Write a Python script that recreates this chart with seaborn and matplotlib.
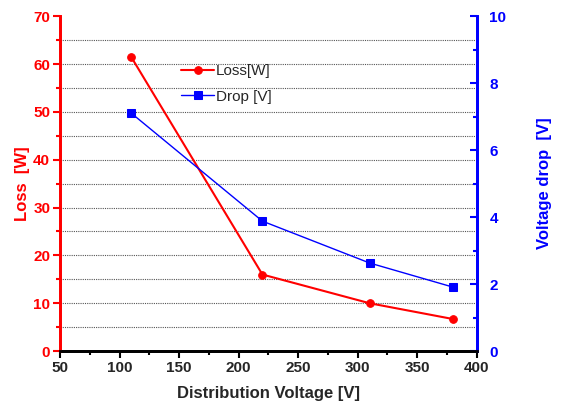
import numpy as np
import pandas as pd
import matplotlib
matplotlib.use('Agg')
import matplotlib.pyplot as plt
import seaborn as sns

# data
voltage = [110, 220, 310, 380]
loss_w = [61.4, 16.0, 10.0, 6.7]
drop_v = [7.1, 3.88, 2.63, 1.91]

df = pd.DataFrame({'voltage': voltage, 'loss': loss_w, 'drop': drop_v})

sns.set_style('white')
plt.rcParams['font.family'] = ['Liberation Sans', 'DejaVu Sans']

fig = plt.figure(figsize=(5.8, 4.04), dpi=100)
ax = fig.add_axes([0.1034, 0.131, 0.7186, 0.829])
ax2 = ax.twinx()

# dotted grid every 5 on the loss axis
for g in range(5, 70, 5):
    ax.axhline(g, color='#555555', lw=0.8, ls=(0, (1, 1)), zorder=0)

sns.lineplot(data=df, x='voltage', y='loss', ax=ax, color='#FF0000', lw=1.5,
             marker='o', markersize=5.5, markeredgecolor='#FF0000', label='Loss[W]', legend=False)
sns.lineplot(data=df, x='voltage', y='drop', ax=ax2, color='#0000FF', lw=1.0,
             marker='s', markersize=6, markeredgecolor='#0000FF', label='Drop [V]', legend=False)

ax.set_xlim(50, 400)
ax.set_ylim(0, 70)
ax2.set_ylim(0, 10)

ax.set_xticks(np.arange(50, 401, 50))
ax.set_xticks(np.arange(75, 400, 50), minor=True)
ax.set_yticks(np.arange(0, 71, 10))
ax.set_yticks(np.arange(5, 70, 10), minor=True)
ax2.set_yticks(np.arange(0, 11, 2))
ax2.set_yticks(np.arange(1, 10, 2), minor=True)

ax.tick_params(axis='x', which='both', direction='out', bottom=True, color='black',
               width=1.5, labelsize=11, pad=2)
ax.tick_params(axis='x', which='major', length=5)
ax.tick_params(axis='x', which='minor', length=3)
ax.tick_params(axis='y', which='both', direction='out', left=True, color='#FF0000',
               labelcolor='#FF0000', width=1.5, labelsize=11, pad=2)
ax.tick_params(axis='y', which='major', length=5)
ax.tick_params(axis='y', which='minor', length=3)
ax2.tick_params(axis='y', which='both', direction='in', right=True, color='#0000FF',
                labelcolor='#0000FF', width=1.5, labelsize=11, pad=9)
ax2.tick_params(axis='y', which='major', length=5)
ax2.tick_params(axis='y', which='minor', length=3)

for lab in ax.get_xticklabels() + ax.get_yticklabels() + ax2.get_yticklabels():
    lab.set_fontweight('bold')

for a in (ax, ax2):
    a.spines['top'].set_visible(False)
    a.spines['left'].set_color('#FF0000')
    a.spines['right'].set_color('#0000FF')
    a.spines['bottom'].set_color('black')
    for s in ('left', 'right', 'bottom'):
        a.spines[s].set_linewidth(2)

ax.set_xlabel('Distribution Voltage [V]', fontsize=12, fontweight='bold', labelpad=8)
ax.set_ylabel('Loss  [W]', fontsize=12, fontweight='bold', color='#FF0000', labelpad=2)
ax2.set_ylabel('Voltage drop  [V]', fontsize=12, fontweight='bold', color='#0000FF', labelpad=22)

h1, l1 = ax.get_legend_handles_labels()
h2, l2 = ax2.get_legend_handles_labels()
leg = ax2.legend(h1 + h2, l1 + l2, loc='upper left', bbox_to_anchor=(0.275, 0.875),
                 frameon=False, fontsize=11, handlelength=2.2, handletextpad=0.1,
                 labelspacing=0.75, borderaxespad=0)

fig.savefig('out.png', dpi=100)
